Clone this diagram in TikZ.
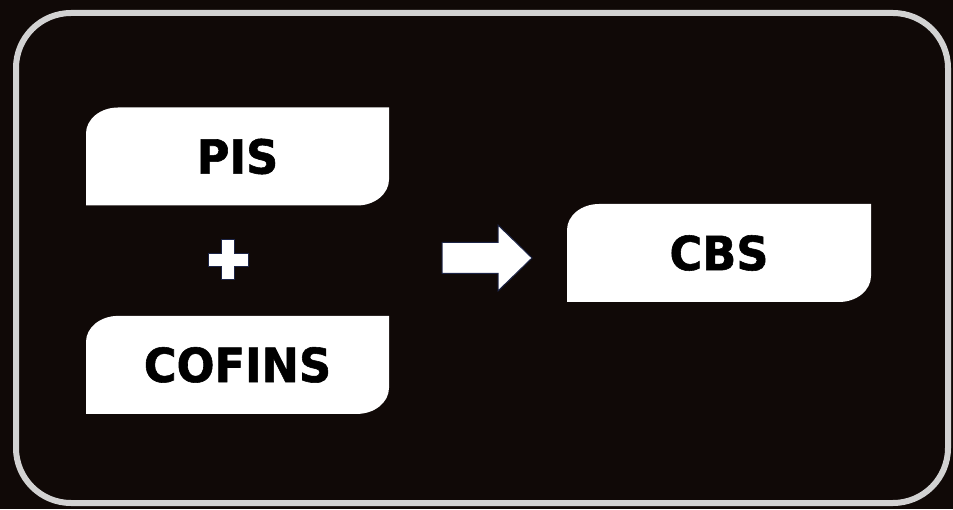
\documentclass[tikz,border=0pt]{standalone}
\usepackage{fontspec}
\newfontfamily\labelfont[FakeStretch=0.95, FakeBold=1.2]{DejaVu Sans}
\usetikzlibrary{positioning}
\definecolor{mBack}{HTML}{100907}
\definecolor{mFrame}{HTML}{D2D2D2}
\definecolor{mEdge}{HTML}{1C2446}
\tikzset{
  leafbox/.style={minimum width=303pt, minimum height=98pt, inner sep=0pt,
    fill=mBack, text=black,
    font=\labelfont\bfseries\fontsize{47}{47}\selectfont,
    path picture={
      \fill[white] ([yshift=-26pt]path picture bounding box.north west)
        arc[start angle=180, end angle=90, x radius=32pt, y radius=26pt]
        -- (path picture bounding box.north east)
        -- ([yshift=26pt]path picture bounding box.south east)
        arc[start angle=0, end angle=-90, x radius=32pt, y radius=26pt]
        -- (path picture bounding box.south west) -- cycle;
    }},
  blockmark/.style={fill=white, draw=mEdge, line width=1pt, line join=miter},
}

\begin{document}
\begin{tikzpicture}[x=1pt, y=1pt]
    % page and frame
    \fill[mBack] (0,0) rectangle (953,509);
    \useasboundingbox (0,0) rectangle (953,509);
    \draw[mFrame, line width=6pt, rounded corners=55pt] (16,6) rectangle (948,496);
    % left boxes
    \node[leafbox] (pis) at (237.5,352.5) {PIS};
    \node[leafbox, below=110pt of pis] (cofins) {COFINS};
    \coordinate (plus) at (228,249);
    \draw[blockmark, shift={(plus)}] (-20,6.5) -- (-6.5,6.5) -- (-6.5,20) -- (6.5,20)
      -- (6.5,6.5) -- (20,6.5) -- (20,-6.5) -- (6.5,-6.5) -- (6.5,-20)
      -- (-6.5,-20) -- (-6.5,-6.5) -- (-20,-6.5) -- cycle;
    % result
    \node[leafbox, minimum width=304pt] (cbs) at (719,256) {CBS};
    \coordinate (arrowbase) at (442,251);
    \draw[blockmark, shift={(arrowbase)}] (0,15.5) -- (56,15.5) -- (56,33) -- (90,0)
      -- (56,-33) -- (56,-15.5) -- (0,-15.5) -- cycle;
\end{tikzpicture}
\end{document}
